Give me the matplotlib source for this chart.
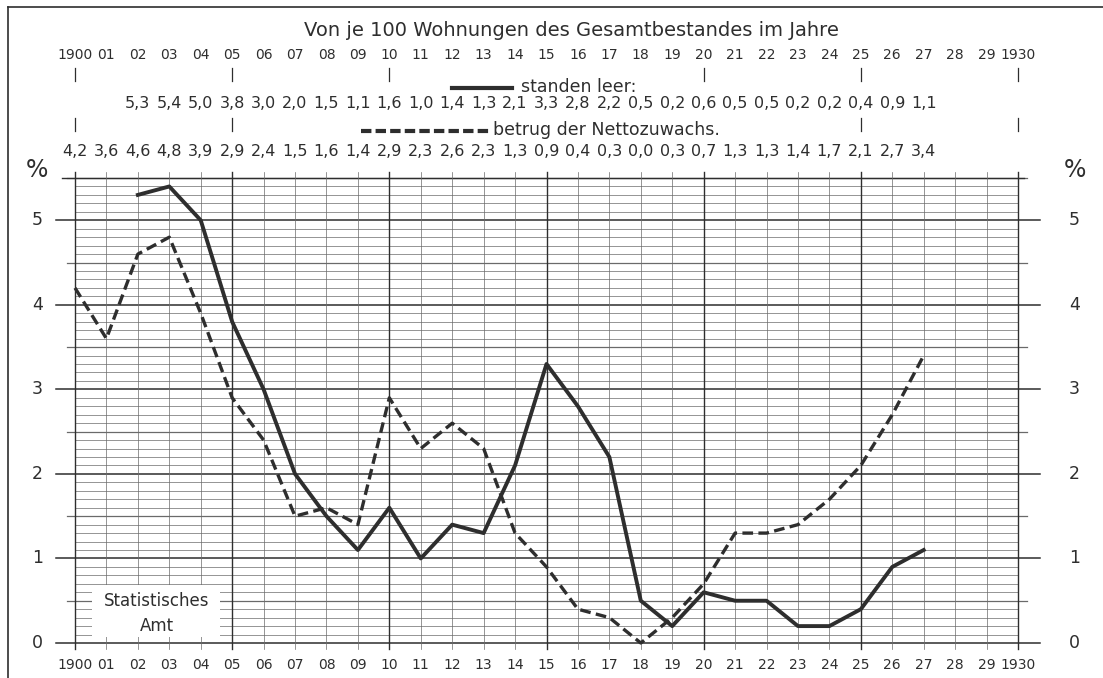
import matplotlib.pyplot as plt
import matplotlib.transforms as mtransforms
import matplotlib.patches as mpatches
import numpy as np

# Leerstehende Wohnungen und Nettozuwachs je 100 Wohnungen, 1900-1930
years = list(range(1900, 1931))
year_labels = ['1900'] + ['%02d' % (y % 100) for y in years[1:-1]] + ['1930']

leer_years = list(range(1902, 1928))
leer = [5.3, 5.4, 5.0, 3.8, 3.0, 2.0, 1.5, 1.1, 1.6, 1.0, 1.4, 1.3, 2.1,
        3.3, 2.8, 2.2, 0.5, 0.2, 0.6, 0.5, 0.5, 0.2, 0.2, 0.4, 0.9, 1.1]

zuwachs_years = list(range(1900, 1928))
zuwachs = [4.2, 3.6, 4.6, 4.8, 3.9, 2.9, 2.4, 1.5, 1.6, 1.4, 2.9, 2.3, 2.6, 2.3,
           1.3, 0.9, 0.4, 0.3, 0.0, 0.3, 0.7, 1.3, 1.3, 1.4, 1.7, 2.1, 2.7, 3.4]

ink = '#2e2e2e'
grid_c = '#6a6a6a'
plt.rcParams['font.family'] = ['DejaVu Sans']

W, H = 1103, 678
fig = plt.figure(figsize=(W / 100, H / 100), dpi=100)
x0, x1, y0, y1 = 75, 1018, 643, 178
ax = fig.add_axes([x0 / W, 1 - y0 / H, (x1 - x0) / W, (y0 - y1) / H])
ax.set_xlim(1900, 1930)
ax.set_ylim(0, 5.5)
ax.axis('off')

# grid: horizontal every 0.1
for k in range(0, 56):
    v = k / 10
    if k % 10 == 0:
        ax.plot([1899.4, 1930.7], [v, v], color=ink, lw=1.1, clip_on=False, zorder=1)
    elif k % 5 == 0:
        ax.plot([1899.75, 1930.3], [v, v], color=grid_c, lw=0.9, clip_on=False, zorder=1)
    else:
        ax.plot([1900, 1930], [v, v], color=grid_c, lw=0.5, zorder=1)
ax.plot([1899.6, 1930.2], [5.5, 5.5], color=ink, lw=1.0, clip_on=False, zorder=1)

# vertical lines
for y in years:
    lw = 1.0 if y % 5 == 0 else 0.5
    ax.plot([y, y], [-0.07, 5.57], color=ink if y % 5 == 0 else grid_c, lw=lw,
            clip_on=False, zorder=1)

# white box "Statistisches Amt"
box = mpatches.Rectangle((1900.55, 0.07), 4.05, 0.62, facecolor='white',
                         edgecolor='none', zorder=2)
ax.add_patch(box)
ax.text(1902.6, 0.5, 'Statistisches', ha='center', va='center', fontsize=12,
        color=ink, zorder=3)
ax.text(1902.6, 0.2, 'Amt', ha='center', va='center', fontsize=12, color=ink, zorder=3)

# data lines
ax.plot(leer_years, leer, color=ink, lw=2.8, zorder=4, clip_on=False)
ax.plot(zuwachs_years, zuwachs, color=ink, lw=2.4, ls=(0, (3.2, 1.6)), zorder=4,
        clip_on=False)

# y labels both sides
for v in range(6):
    ax.text(1898.8, v, str(v), ha='center', va='center', fontsize=12.5, color=ink)
    ax.text(1931.8, v, str(v), ha='center', va='center', fontsize=12.5, color=ink)
ax.text(1898.8, 5.6, '%', ha='center', va='center', fontsize=17, color=ink)
ax.text(1931.8, 5.6, '%', ha='center', va='center', fontsize=17, color=ink)

# header (x in data, y in figure)
tr = mtransforms.blended_transform_factory(ax.transData, fig.transFigure)
fy = lambda px: 1 - px / H

ax.text(1915.8, fy(30), 'Von je 100 Wohnungen des Gesamtbestandes im Jahre',
        transform=tr, ha='center', va='center', fontsize=14, color=ink)
for y, lab in zip(years, year_labels):
    ax.text(y, fy(55), lab, transform=tr, ha='center', va='center', fontsize=10,
            color=ink)
    ax.text(y, fy(665), lab, transform=tr, ha='center', va='center', fontsize=10,
            color=ink)

for y in [1900, 1905, 1910, 1920, 1925, 1930]:
    ax.plot([y, y], [fy(68), fy(81)], transform=tr, color=ink, lw=0.9, clip_on=False)
for y in [1900, 1905, 1925, 1930]:
    ax.plot([y, y], [fy(118), fy(131)], transform=tr, color=ink, lw=0.9, clip_on=False)

for y, v in zip(leer_years, leer):
    ax.text(y, fy(103), ('%.1f' % v).replace('.', ','), transform=tr, ha='center',
            va='center', fontsize=11.5, color=ink)
for y, v in zip(zuwachs_years, zuwachs):
    ax.text(y, fy(152), ('%.1f' % v).replace('.', ','), transform=tr, ha='center',
            va='center', fontsize=11.5, color=ink)

# legend entries
ax.plot([1912.0, 1913.9], [fy(88), fy(88)], transform=tr, color=ink, lw=3,
        clip_on=False)
ax.text(1914.2, fy(87), 'standen leer:', transform=tr, ha='left', va='center',
        fontsize=12.5, color=ink)
ax.plot([1909.1, 1913.2], [fy(131), fy(131)], transform=tr, color=ink, lw=3,
        ls=(0, (2.5, 1)), clip_on=False)
ax.text(1913.3, fy(130), 'betrug der Nettozuwachs.', transform=tr, ha='left',
        va='center', fontsize=12.5, color=ink)

# outer frame (top and left edge)
fig.add_artist(plt.Line2D([8 / W, 1], [fy(7), fy(7)], color=ink, lw=1.2))
fig.add_artist(plt.Line2D([8 / W, 8 / W], [0, fy(7)], color=ink, lw=1.2))

fig.savefig('out.png', dpi=100)
